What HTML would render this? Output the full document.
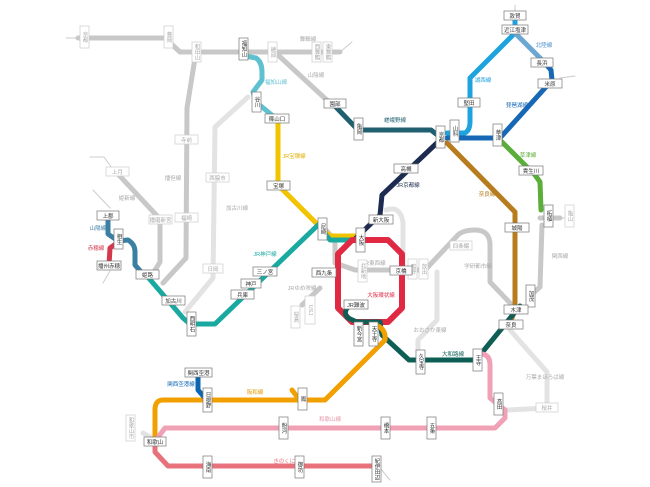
<!DOCTYPE html>
<html><head><meta charset="utf-8"><style>
html,body{margin:0;padding:0;background:#fff;}
svg{display:block;font-family:"Liberation Sans","Noto Sans CJK JP",sans-serif;}
.l{fill:none;stroke-linejoin:round;stroke-linecap:round;}
.s rect{fill:#fff;stroke:#777;stroke-width:0.7;}
.g rect{fill:#fff;stroke:#ccc;stroke-width:0.7;}
.s text{font-size:5.5px;fill:#333;text-anchor:middle;}
.g text{font-size:5.5px;fill:#aaa;text-anchor:middle;}
text.v{writing-mode:vertical-rl;dominant-baseline:central;}
.lab{font-size:5.5px;text-anchor:middle;}
</style></head><body>
<svg width="650" height="487" viewBox="0 0 650 487">
<g class="l" stroke="#ccc" stroke-width="1">
<path d="M66,38 L78,38"/><path d="M340,52 L352,42"/><path d="M90,157 L104,157 L112,168"/><path d="M93,190 L110,208"/><path d="M110,271 L103,283"/><path d="M510,15 L522,15"/><path d="M515,5 L515,12"/><path d="M560,78 L575,76"/><path d="M560,218 L573,218"/><path d="M380,468 L390,480"/>
</g>
<g class="l" stroke="#c8c8c8" stroke-width="5">
<path d="M78,38 L165,38 L180,52 L340,52"/>
<path d="M278,55 L330,103"/>
<path d="M195,58 L187,108 L186,258 L163,283"/>
<path d="M117,173 L160,219 L160,262 L152,275"/>
<path d="M326,230 L335,240 L335,263 L355,270 L425,270 L457,236 Q462,230 475,230 Q490,230 490,245 L490,282 L513,306"/>
<path d="M542,225 L540,287 L530,296"/>
<path d="M320,288 L302,305"/>
<path d="M540,218 L560,218"/>
</g>
<g class="l" stroke="#e3e3e3" stroke-width="5">
<path d="M248,97 L215,127 L213,278 L185,312"/>
<path d="M386,210 Q400,205 403,222 L403,265"/>
<path d="M437,272 L437,320 L418,340 L418,360"/>
<path d="M510,330 L547,372 L547,408 L507,410"/>
<path d="M143,433 L155,440"/>
</g>
<path class="l" stroke="#5fc1d0" stroke-width="5" d="M245,56 L256,58 Q262,62 262,72 L262,80 L253,92 L256,102 L273,116"/>
<path class="l" stroke="#f2c400" stroke-width="5" d="M278,120 L278,185 L318,225 L330,236 L358,236"/>
<path class="l" stroke="#1aa9a0" stroke-width="5" d="M147,276 L183,318 L190,324 L215,324 L318,225 L330,240 L358,240"/>
<path class="l" stroke="#3b7fa3" stroke-width="5" d="M108,220 L108,234 L118,241 L128,240 Q135,244 135,252 L135,265 L143,274"/>
<path class="l" stroke="#d3384c" stroke-width="5" d="M117,243 L110,248 L109,265"/>
<path class="l" stroke="#1e2b50" stroke-width="5" d="M440,140 L382,195 L380,215 L356,238"/>
<path class="l" stroke="#1f5f70" stroke-width="5" d="M333,104 L358,130 L431,130 L440,137"/>
<path class="l" stroke="#1fa3de" stroke-width="5" d="M447,133 L465,133 Q470,130 470,122 L470,78 L515,33"/>
<path class="l" stroke="#1fa3de" stroke-width="5" d="M515,14 L515,30"/>
<path class="l" stroke="#6aa7d2" stroke-width="5" d="M515,33 L544,62"/>
<path class="l" stroke="#1668b6" stroke-width="5" d="M447,138 L500,138 L545,88 L552,80 L551,70 L544,62"/>
<path class="l" stroke="#5cae3a" stroke-width="5" d="M500,140 L535,175 L540,182 L541,210"/>
<path class="l" stroke="#b77c1d" stroke-width="5" d="M447,143 L515,212 L515,310 L510,323"/>
<path class="l" stroke="#e02a44" stroke-width="6" d="M352,240 L388,240 L402,254 L402,308 L388,322 L352,322 L338,308 L338,254 Z"/>
<path class="l" stroke="#0e5e55" stroke-width="5" d="M350,305 Q342,312 348,318 L357,322 L380,322 L382,335 L409,360 L476,360 L520,306"/>
<path class="l" stroke="#f2a000" stroke-width="5" d="M378,326 Q386,330 385,340 L325,400 L163,400 Q155,400 155,410 L155,442"/>
<path class="l" stroke="#f2a000" stroke-width="5" d="M292,390 L298,398"/>
<path class="l" stroke="#f0a1b6" stroke-width="5" d="M482,354 Q490,355 490,365 L490,398 L505,410 L505,418 L495,428 L165,428 L159,436"/>
<path class="l" stroke="#0e66b3" stroke-width="5" d="M198,376 L198,390 L205,398"/>
<path class="l" stroke="#e8727b" stroke-width="5" d="M155,446 L155,452 L168,466 L375,466"/>
<g class="lab">
<text x="276" y="84" fill="#5fc1d0">福知山線</text>
<text x="294" y="158" fill="#e0b000">JR宝塚線</text>
<text x="265" y="256" fill="#1aa9a0">JR神戸線</text>
<text x="98" y="230" fill="#3b7fa3">山陽線</text>
<text x="96" y="250" fill="#d3384c">赤穂線</text>
<text x="395" y="122" fill="#1f5f70">嵯峨野線</text>
<text x="408" y="187" fill="#1e2b50">JR京都線</text>
<text x="483" y="82" fill="#1fa3de">湖西線</text>
<text x="544" y="47" fill="#4a90c8">北陸線</text>
<text x="517" y="107" fill="#1668b6">琵琶湖線</text>
<text x="528" y="157" fill="#5cae3a">草津線</text>
<text x="487" y="196" fill="#b77c1d">奈良線</text>
<text x="381" y="297" fill="#e02a44">大阪環状線</text>
<text x="453" y="356" fill="#0e5e55">大和路線</text>
<text x="255" y="394" fill="#e89a00">阪和線</text>
<text x="181" y="386" fill="#0e66b3">関西空港線</text>
<text x="330" y="421" fill="#e898ab">和歌山線</text>
<text x="287" y="463" fill="#e8727b">きのくに線</text>
<g fill="#aaa"><text x="173" y="180">播但線</text><text x="127" y="200">姫新線</text><text x="237" y="210">加古川線</text><text x="316" y="77">山陰線</text><text x="308" y="41">舞鶴線</text><text x="374" y="265">JR東西線</text><text x="302" y="290">JRゆめ咲線</text><text x="478" y="268">学研都市線</text><text x="560" y="258">関西線</text><text x="430" y="332">おおさか東線</text><text x="545" y="379">万葉まほろば線</text></g>
</g>
<g class="g">
<rect x="80" y="26" width="9" height="22"/><text class="v" x="84.5" y="37">京都</text>
<rect x="164" y="26" width="9" height="22"/><text class="v" x="168.5" y="37">豊岡</text>
<rect x="192" y="42" width="9" height="20"/><text class="v" x="196.5" y="52">和田山</text>
<rect x="268" y="42" width="9" height="20"/><text class="v" x="272.5" y="52">綾部</text>
<rect x="312" y="42" width="9" height="20"/><text class="v" x="316.5" y="52">西舞鶴</text>
<rect x="323" y="42" width="9" height="20"/><text class="v" x="327.5" y="52">東舞鶴</text>
<rect x="175" y="135" width="23" height="9"/><text x="186.5" y="142">寺前</text>
<rect x="175" y="213" width="23" height="9"/><text x="186.5" y="220">福崎</text>
<rect x="106" y="167" width="23" height="9"/><text x="117.5" y="174">上月</text>
<rect x="149" y="215" width="23" height="9"/><text x="160.5" y="222">播磨新宮</text>
<rect x="206" y="173" width="23" height="9"/><text x="217.5" y="180">西脇市</text>
<rect x="203" y="264" width="20" height="9"/><text x="213" y="271">日岡</text>
<rect x="358" y="260" width="9" height="22"/><text class="v" x="362.5" y="271">北新地</text>
<rect x="305" y="296" width="10" height="28"/><text class="v" x="310" y="310">USJ</text>
<rect x="291" y="306" width="9" height="22"/><text class="v" x="295.5" y="317">桜島</text>
<rect x="408" y="259" width="9" height="20"/><text class="v" x="412.5" y="269">鴫野</text>
<rect x="419" y="259" width="9" height="20"/><text class="v" x="423.5" y="269">放出</text>
<rect x="450" y="241" width="22" height="9"/><text x="461" y="248">四条畷</text>
<rect x="565" y="205" width="9" height="22"/><text class="v" x="569.5" y="216">亀山</text>
<rect x="536" y="403" width="22" height="9"/><text x="547" y="410">桜井</text>
<rect x="126" y="415" width="9" height="26"/><text class="v" x="130.5" y="428">和歌山市</text>
</g>
<g class="s">
<rect x="239" y="38" width="9" height="22"/><text class="v" x="243.5" y="49">福知山</text>
<rect x="252" y="92" width="9" height="20"/><text class="v" x="256.5" y="102">谷川</text>
<rect x="265" y="114" width="24" height="9"/><text x="277" y="121">篠山口</text>
<rect x="267" y="181" width="23" height="9"/><text x="278.5" y="188">宝塚</text>
<rect x="318" y="218" width="9" height="22"/><text class="v" x="322.5" y="229">尼崎</text>
<rect x="324" y="99" width="22" height="9"/><text x="335" y="106">園部</text>
<rect x="354" y="118" width="9" height="22"/><text class="v" x="358.5" y="129">亀岡</text>
<rect x="436" y="126" width="9" height="22"/><text class="v" x="440.5" y="137">京都</text>
<rect x="450" y="120" width="9" height="22"/><text class="v" x="454.5" y="131">山科</text>
<rect x="458" y="98" width="22" height="9"/><text x="469" y="105">堅田</text>
<rect x="504" y="11" width="22" height="9"/><text x="515" y="18">敦賀</text>
<rect x="502" y="25" width="26" height="9"/><text x="515" y="32">近江塩津</text>
<rect x="531" y="58" width="22" height="9"/><text x="542" y="65">長浜</text>
<rect x="538" y="79" width="24" height="9"/><text x="550" y="86">米原</text>
<rect x="493" y="124" width="9" height="22"/><text class="v" x="497.5" y="135">草津</text>
<rect x="519" y="166" width="24" height="9"/><text x="531" y="173">貴生川</text>
<rect x="544" y="205" width="9" height="22"/><text class="v" x="548.5" y="216">柘植</text>
<rect x="394" y="164" width="24" height="9"/><text x="406" y="171">高槻</text>
<rect x="369" y="215" width="24" height="9"/><text x="381" y="222">新大阪</text>
<rect x="356" y="228" width="9" height="24"/><text class="v" x="360.5" y="240">大阪</text>
<rect x="312" y="268" width="24" height="9"/><text x="324" y="275">西九条</text>
<rect x="390" y="266" width="22" height="9"/><text x="401" y="273">京橋</text>
<rect x="344" y="300" width="24" height="9"/><text x="356" y="307">JR難波</text>
<rect x="354" y="322" width="9" height="24"/><text class="v" x="358.5" y="334">新今宮</text>
<rect x="369" y="322" width="9" height="24"/><text class="v" x="373.5" y="334">天王寺</text>
<rect x="416" y="350" width="9" height="24"/><text class="v" x="420.5" y="362">久宝寺</text>
<rect x="473" y="349" width="9" height="22"/><text class="v" x="477.5" y="360">王寺</text>
<rect x="505" y="223" width="24" height="9"/><text x="517" y="230">城陽</text>
<rect x="526" y="285" width="9" height="22"/><text class="v" x="530.5" y="296">加茂</text>
<rect x="504" y="305" width="24" height="9"/><text x="516" y="312">木津</text>
<rect x="499" y="320" width="24" height="9"/><text x="511" y="327">奈良</text>
<rect x="494" y="393" width="9" height="22"/><text class="v" x="498.5" y="404">高田</text>
<rect x="427" y="417" width="9" height="22"/><text class="v" x="431.5" y="428">五条</text>
<rect x="381" y="417" width="9" height="22"/><text class="v" x="385.5" y="428">橋本</text>
<rect x="279" y="417" width="9" height="22"/><text class="v" x="283.5" y="428">粉河</text>
<rect x="298" y="388" width="9" height="22"/><text class="v" x="302.5" y="399">鳳</text>
<rect x="203" y="388" width="9" height="24"/><text class="v" x="207.5" y="400">日根野</text>
<rect x="185" y="368" width="27" height="9"/><text x="198.5" y="375">関西空港</text>
<rect x="144" y="437" width="22" height="9"/><text x="155" y="444">和歌山</text>
<rect x="203" y="456" width="9" height="22"/><text class="v" x="207.5" y="467">海南</text>
<rect x="295" y="456" width="9" height="22"/><text class="v" x="299.5" y="467">御坊</text>
<rect x="372" y="456" width="9" height="26"/><text class="v" x="376.5" y="469">紀伊田辺</text>
<rect x="97" y="211" width="22" height="9"/><text x="108" y="218">上郡</text>
<rect x="114" y="229" width="9" height="20"/><text class="v" x="118.5" y="239">相生</text>
<rect x="97" y="261" width="24" height="9"/><text x="109" y="268">播州赤穂</text>
<rect x="136" y="270" width="23" height="9"/><text x="147.5" y="277">姫路</text>
<rect x="162" y="296" width="23" height="9"/><text x="173.5" y="303">加古川</text>
<rect x="187" y="312" width="9" height="24"/><text class="v" x="191.5" y="324">西明石</text>
<rect x="231" y="290" width="23" height="9"/><text x="242.5" y="297">兵庫</text>
<rect x="241" y="279" width="20" height="9"/><text x="251" y="286">神戸</text>
<rect x="253" y="267" width="24" height="9"/><text x="265" y="274">三ノ宮</text>
</g>
</svg>
</body></html>
